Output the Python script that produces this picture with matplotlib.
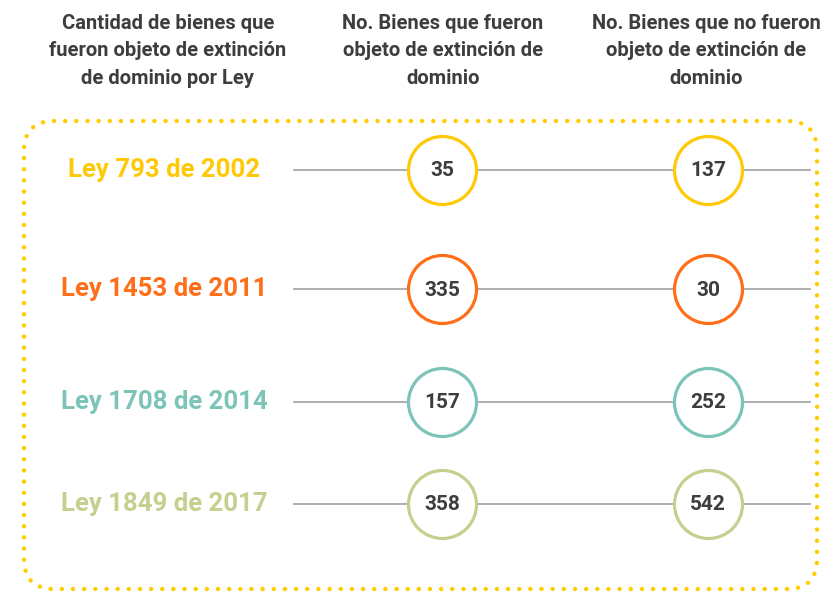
import matplotlib
matplotlib.use("Agg")
import matplotlib.pyplot as plt
from matplotlib.patches import FancyBboxPatch

plt.rcParams["font.family"] = ["Liberation Sans Narrow", "Roboto", "DejaVu Sans"]

# data
leyes = ["Ley 793 de 2002", "Ley 1453 de 2011", "Ley 1708 de 2014", "Ley 1849 de 2017"]
extintos = [35, 335, 157, 358]
no_extintos = [137, 30, 252, 542]
colores = ["#FFC907", "#FF6F1A", "#7DC4B8", "#C5CF8E"]
encabezados = [
    "Cantidad de bienes que\nfueron objeto de extinción\nde dominio por Ley",
    "No. Bienes que fueron\nobjeto de extinción de\ndominio",
    "No. Bienes que no fueron\nobjeto de extinción de\ndominio",
]

# layout (pixel coordinates)
W, H = 823, 593
row_y = [170, 289, 402, 504]
label_x = 164
col_x = [442, 708]
head_x = [168, 443, 706]
TEXT_DARK = "#3d3d3d"

fig = plt.figure(figsize=(W / 100, H / 100), dpi=100)
ax = fig.add_axes([0, 0, 1, 1])
ax.set_xlim(0, W)
ax.set_ylim(H, 0)
ax.axis("off")

# dotted rounded frame
frame = FancyBboxPatch((24, 121), 793, 468,
                       boxstyle="round,pad=0,rounding_size=30",
                       facecolor="none", edgecolor="#FFCC00",
                       linewidth=3.2, linestyle=(0, (0.01, 2.5)),
                       capstyle="round", zorder=1)
ax.add_patch(frame)

# headers
for x, txt in zip(head_x, encabezados):
    ax.text(x, 51, txt, ha="center", va="center", fontsize=14.5,
            fontweight="bold", color=TEXT_DARK, linespacing=1.55)

for y, ley, a, b, c in zip(row_y, leyes, extintos, no_extintos, colores):
    ax.text(label_x, y, ley, ha="center", va="center", fontsize=18.5,
            fontweight="bold", color=c)
    ax.plot([294, 810], [y, y], color="#a8a8a8", linewidth=1.3, zorder=2)
    ax.scatter(col_x, [y, y], s=2400, facecolor="white", edgecolor=c,
               linewidth=2.3, zorder=3)
    for x, v in zip(col_x, [a, b]):
        ax.text(x, y + 1, str(v), ha="center", va="center", fontsize=15,
                fontweight="bold", color=TEXT_DARK, zorder=4)

fig.savefig("out.png", dpi=100)
